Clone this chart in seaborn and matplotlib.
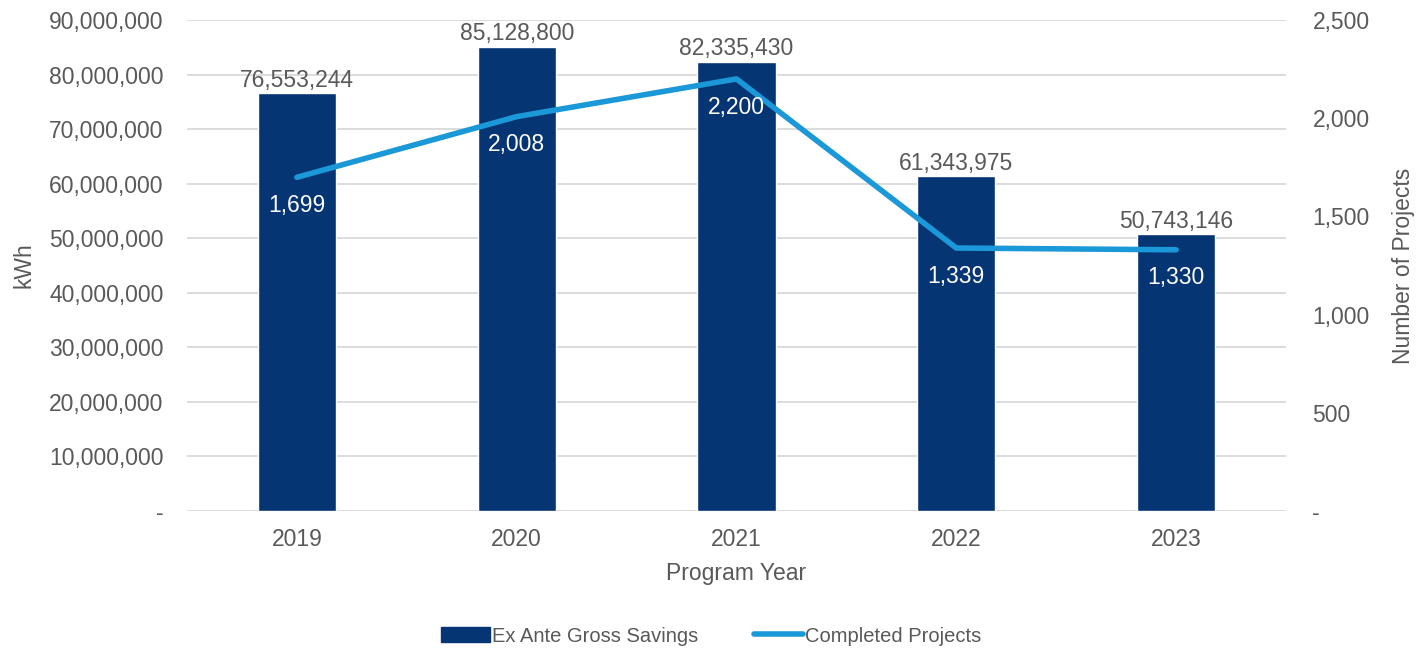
import matplotlib
matplotlib.use("Agg")
import matplotlib.pyplot as plt
import matplotlib.ticker as mticker
from matplotlib.lines import Line2D
from matplotlib.patches import Patch
import seaborn as sns
import pandas as pd

years = ["2019", "2020", "2021", "2022", "2023"]
savings_kwh = [76553244, 85128800, 82335430, 61343975, 50743146]
projects = [1699, 2008, 2200, 1339, 1330]

BAR_COLOR = "#063573"
LINE_COLOR = "#1b98d8"
TEXT_COLOR = "#595959"
GRID_COLOR = "#d9d9d9"
FS = 16.5

sns.set_theme(style="white")
plt.rcParams["font.family"] = ["Liberation Sans", "DejaVu Sans"]

df = pd.DataFrame({"year": years, "kwh": savings_kwh, "projects": projects})

fig = plt.figure(figsize=(14.24, 6.51), dpi=100)
ax = fig.add_axes([187 / 1424, 1 - 511 / 651, 1099 / 1424, 491 / 651])

sns.barplot(data=df, x="year", y="kwh", color=BAR_COLOR, width=0.355,
            saturation=1, ax=ax, zorder=2)
ax.set_ylim(0, 90_000_000)
ax.yaxis.set_major_locator(mticker.MultipleLocator(10_000_000))
ax.yaxis.set_major_formatter(mticker.FuncFormatter(
    lambda v, _: "-" if v == 0 else f"{v:,.0f}"))
ax.grid(axis="y", color=GRID_COLOR, linewidth=1.3, zorder=0)
ax.set_axisbelow(True)
for s in ax.spines.values():
    s.set_visible(False)
ax.tick_params(axis="both", length=0, labelsize=FS, colors=TEXT_COLOR)
ax.tick_params(axis="x", pad=12)
ax.tick_params(axis="y", pad=17)
ax.set_xlabel("Program Year", fontsize=FS, color=TEXT_COLOR, labelpad=8)
ax.set_ylabel("kWh", fontsize=FS, color=TEXT_COLOR, labelpad=10)

for i, v in enumerate(savings_kwh):
    ax.annotate(f"{v:,}", (i, v), xytext=(0, 1), textcoords="offset points",
                ha="center", va="bottom", fontsize=FS, color=TEXT_COLOR)

ax2 = ax.twinx()
sns.lineplot(x=list(range(len(years))), y=projects, color=LINE_COLOR,
             linewidth=4, ax=ax2, zorder=3)
ax2.set_ylim(0, 2500)
ax2.yaxis.set_major_locator(mticker.MultipleLocator(500))
ax2.yaxis.set_major_formatter(mticker.FuncFormatter(
    lambda v, _: "-" if v == 0 else f"{v:,.0f}"))
for s in ax2.spines.values():
    s.set_visible(False)
ax2.tick_params(axis="y", length=0, labelsize=FS, colors=TEXT_COLOR, pad=19)
ax2.set_ylabel("Number of Projects", fontsize=FS, color=TEXT_COLOR,
               labelpad=16)
ax2.grid(False)
ax.set_xlim(-0.5, len(years) - 0.5)

for i, v in enumerate(projects):
    ax2.annotate(f"{v:,}", (i, v), xytext=(0, -12), textcoords="offset points",
                 ha="center", va="top", fontsize=FS, color="white")

handles = [Patch(facecolor=BAR_COLOR, edgecolor=BAR_COLOR),
           Line2D([0], [0], color=LINE_COLOR, linewidth=4)]
fig.legend(handles, ["Ex Ante Gross Savings", "Completed Projects"],
           loc="center", bbox_to_anchor=(711 / 1424, 1 - 636 / 651), ncol=2,
           frameon=False, handlelength=2.4, handleheight=0.8,
           handletextpad=0.1, columnspacing=2.8, labelcolor=TEXT_COLOR,
           prop={"family": ["Liberation Sans Narrow", "Liberation Sans"],
                 "size": 14.5})

fig.savefig("out.png", dpi=100)
